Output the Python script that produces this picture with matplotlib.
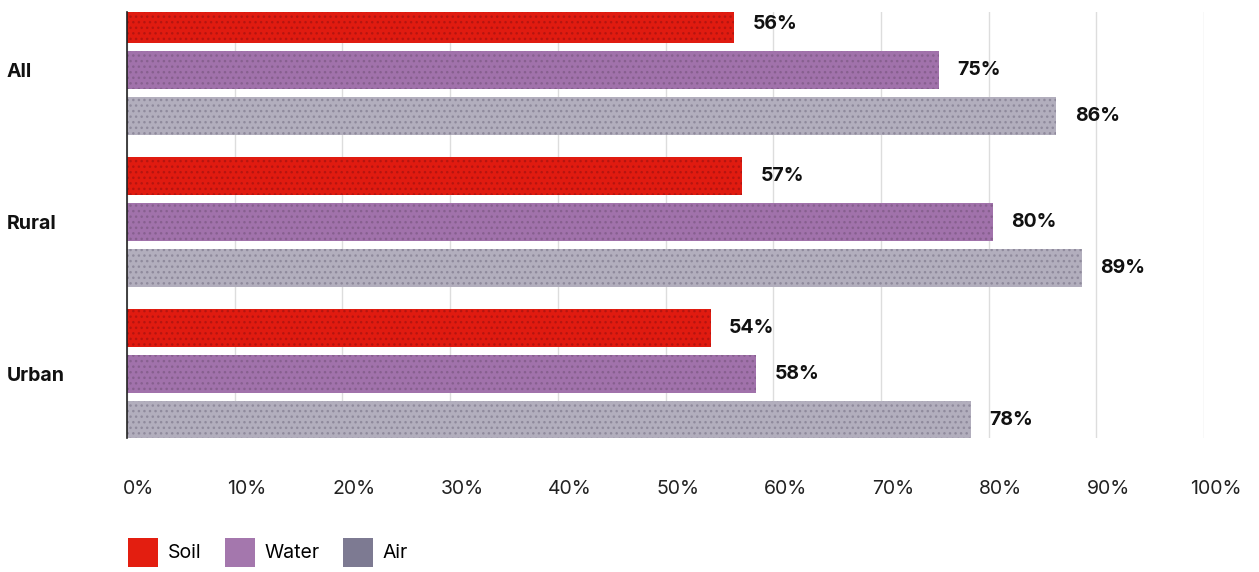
import matplotlib
matplotlib.use("Agg")
import matplotlib.pyplot as plt
from matplotlib.patches import Patch
from matplotlib.transforms import ScaledTranslation
import numpy as np

plt.rcParams['font.family'] = ['Inter', 'DejaVu Sans']

# data
groups = ['All', 'Rural', 'Urban']
series = ['Soil', 'Water', 'Air']
soil = [56.4, 57.1, 54.2]
water = [75.4, 80.4, 58.4]
air = [86.3, 88.7, 78.4]
xticks = [0, 10, 20, 30, 40, 50, 60, 70, 80, 90, 100]

bar_colors = ['#e01b10', '#a172ab', '#b2aebd']
speck_colors = ['#b51510', '#87608f', '#8f8a9c']
legend_colors = ['#e31e10', '#a477ad', '#7d7a92']

W, H = 1259, 572
fig = plt.figure(figsize=(W / 100, H / 100), dpi=100)
ax = fig.add_axes([127 / W, 1 - 438 / H, (1204 - 127) / W, (438 - 12) / H])

plt.rcParams['hatch.linewidth'] = 1.0
y = np.arange(len(groups))
offsets = [-46 / 152, 0, 46 / 152]
height = 38 / 152
for vals, off, c, sc in zip([soil, water, air], offsets, bar_colors, speck_colors):
    bars = ax.barh(y + off, vals, height=height, color=c, edgecolor=sc,
                   linewidth=0, hatch='...', zorder=2)
    for b, v in zip(bars, vals):
        ax.text(v + 1.7, b.get_y() + b.get_height() / 2, f'{round(v)}%',
                va='center', ha='left', fontsize=14, fontweight='bold',
                color='#111111')

ax.set_xlim(0, 100)
ax.set_ylim(2 + 64 / 152, -58 / 152)
ax.set_xticks(xticks)
ax.set_xticklabels([f'{t}%' for t in xticks], fontsize=14, color='#222222')
ax.tick_params(axis='x', length=0, pad=30)
for lab in ax.get_xticklabels():
    lab.set_transform(lab.get_transform() + ScaledTranslation(12 / 100, 0, fig.dpi_scale_trans))
ax.set_yticks(y)
ax.set_yticklabels(groups, fontsize=14, fontweight='bold', ha='left', color='#111111')
ax.tick_params(axis='y', length=0, pad=120 * 0.72)

ax.grid(axis='x', color='#dddddd', linewidth=1, zorder=0)
ax.set_axisbelow(True)
for s in ['top', 'right', 'bottom']:
    ax.spines[s].set_visible(False)
ax.spines['left'].set_color('#222222')
ax.spines['left'].set_linewidth(1.2)
ax.spines['left'].set_zorder(3)

handles = [Patch(facecolor=c, edgecolor='none', label=s) for c, s in zip(legend_colors, series)]
fig.legend(handles=handles, loc='lower left', bbox_to_anchor=(128 / W, 5 / H), ncol=3,
           frameon=False, fontsize=14, handlelength=1.55, handleheight=1.95,
           handletextpad=0.5, columnspacing=1.2, borderpad=0, borderaxespad=0)

fig.savefig('out.png', dpi=100)
